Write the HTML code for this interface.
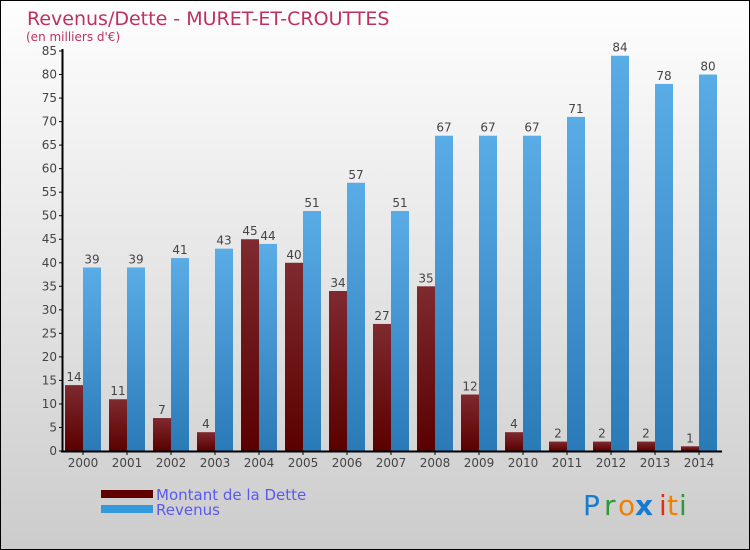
<!DOCTYPE html>
<html><head><meta charset="utf-8"><style>
body{margin:0}
#wrap{width:748px;height:548px;border:1px solid #000;background:linear-gradient(#fefefe,#cccccc);position:relative;font-family:"DejaVu Sans","Liberation Sans",sans-serif}
</style></head><body>
<div id="wrap">
<svg id="chart" width="748" height="548" style="position:absolute;left:0;top:0">
<defs>
<linearGradient id="gd" x1="0" y1="0" x2="0" y2="1"><stop offset="0" stop-color="#7e2a2f"/><stop offset="1" stop-color="#5a0000"/></linearGradient>
<linearGradient id="gr" x1="0" y1="0" x2="0" y2="1"><stop offset="0" stop-color="#5aace6"/><stop offset="1" stop-color="#2a7ab8"/></linearGradient>
</defs>
<text x="26" y="24" font-size="19" fill="#c0305f">Revenus/Dette - MURET-ET-CROUTTES</text>
<text x="25" y="40" font-size="12" fill="#c0305f">(en milliers d'€)</text>
<g id="plot"></g>
<rect x="100" y="489" width="52" height="8" fill="#600000"/>
<rect x="100" y="504" width="52" height="8" fill="#3399dd"/>
<text x="155" y="499" font-size="15" fill="#5a5aee">Montant de la Dette</text>
<text x="155" y="514" font-size="15" fill="#5a5aee">Revenus</text>
<g font-size="28" font-family="DejaVu Sans, sans-serif">
<text x="582" y="514" fill="#1a7ad0">P</text><text x="603" y="514" fill="#2a9a3a">r</text><text x="617" y="514" fill="#f08000">o</text><text x="634" y="514" fill="#1a7ad0" font-weight="bold">x</text><text x="658" y="514" fill="#e03010">i</text><text x="666" y="514" fill="#f08000">t</text><text x="678" y="514" fill="#2a9a3a">i</text>
</g>
</svg>
</div>
<script>
const years=["2000","2001","2002","2003","2004","2005","2006","2007","2008","2009","2010","2011","2012","2013","2014"];
const dette=[14,11,7,4,45,40,34,27,35,12,4,2,2,2,1];
const revenus=[39,39,41,43,44,51,57,51,67,67,67,71,84,78,80];
const yTicks=[0,5,10,15,20,25,30,35,40,45,50,55,60,65,70,75,80,85];
const NS="http://www.w3.org/2000/svg";
const g=document.getElementById('plot');
const y=v=>450-v*400/85;
const x=i=>82+i*44;
function mk(t,a){const e=document.createElementNS(NS,t);for(const k in a)e.setAttribute(k,a[k]);g.appendChild(e);return e;}
yTicks.forEach(v=>{
 const l=mk('line',{x1:58,x2:62,y1:y(v),y2:y(v),stroke:'#000'});
 
 
 const t=mk('text',{x:56,y:y(v)+4,'font-size':12,fill:'#444','text-anchor':'end'});t.textContent=v;
 
 
});
years.forEach((yr,i)=>{
 const cx=x(i);
 const b1=mk('rect',{x:cx-18,y:y(dette[i]),width:18,height:450-y(dette[i]),fill:'url(#gd)'});
 
 
 const b2=mk('rect',{x:cx,y:y(revenus[i]),width:18,height:450-y(revenus[i]),fill:'url(#gr)'});
 
 
 const t1=mk('text',{x:cx-9,y:y(dette[i])-4,'font-size':12,fill:'#444','text-anchor':'middle'});t1.textContent=dette[i];
 
 
 const t2=mk('text',{x:cx+9,y:y(revenus[i])-4,'font-size':12,fill:'#444','text-anchor':'middle'});t2.textContent=revenus[i];
 
 
 const tk=mk('line',{x1:cx,x2:cx,y1:450,y2:454,stroke:'#000'});
 
 
 const tl=mk('text',{x:cx,y:466,'font-size':12,fill:'#444','text-anchor':'middle'});tl.textContent=yr;
 
 
});
const ya=mk('line',{x1:61.5,x2:61.5,y1:48,y2:451,stroke:'#000','stroke-width':2});


const xa=mk('line',{x1:60,x2:721,y1:450.5,y2:450.5,stroke:'#000','stroke-width':2});


</script>
</body></html>
